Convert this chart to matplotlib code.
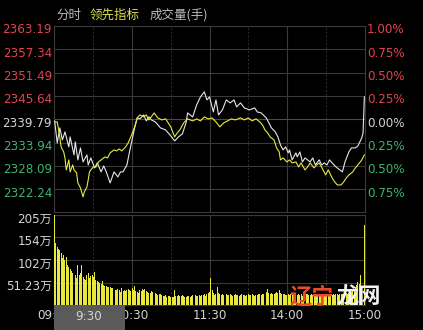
import matplotlib
matplotlib.use("Agg")
import matplotlib.pyplot as plt
from matplotlib import transforms
from matplotlib.patches import Rectangle
import numpy as np

# index close and the two intraday lines (minute since 9:30 -> value)
prev_close = 2339.79

price_t = [0, 2, 4, 6, 8, 11, 12, 15, 16, 18, 20, 22, 25, 26, 28, 31, 33, 36, 38, 40,
           43, 46, 49, 51, 53, 56, 58, 60, 62, 64, 66, 69, 71, 73, 75, 78, 82, 86, 90, 93,
           96, 99, 102, 103, 107, 110, 113, 116, 118, 120, 123, 125, 127, 130, 133, 136,
           139, 141, 144, 147, 151, 155, 157, 160, 164, 168, 171, 173, 175, 177, 179, 181,
           182, 184, 187, 188, 190, 192, 194, 198, 200, 202, 205, 207, 209, 211, 213, 215,
           218, 221, 223, 225, 228, 230, 233, 235, 238, 239, 240]
price_v = [2339.36, 2333.84, 2337.61, 2334.59, 2336.60, 2332.83, 2335.35, 2330.83, 2334.09,
           2329.57, 2332.58, 2329.07, 2330.83, 2328.31, 2330.07, 2327.56, 2328.82, 2326.56,
           2328.06, 2326.56, 2323.79, 2326.56, 2325.30, 2326.56, 2326.56, 2328.31, 2331.58,
           2334.59, 2337.61, 2340.12, 2339.87, 2340.87, 2339.36, 2340.37, 2339.61, 2339.11,
           2337.61, 2337.10, 2335.60, 2334.34, 2335.35, 2336.10, 2339.11, 2341.37, 2340.37,
           2343.38, 2345.39, 2346.65, 2344.64, 2345.39, 2341.62, 2344.64, 2340.87, 2342.13,
           2344.64, 2343.88, 2344.64, 2342.88, 2343.88, 2342.63, 2342.13, 2342.63, 2341.62,
           2341.37, 2340.12, 2337.61, 2336.60, 2335.35, 2333.34, 2332.08, 2332.83, 2331.33,
           2332.08, 2329.57, 2331.33, 2330.32, 2331.58, 2329.07, 2330.07, 2329.07, 2330.07,
           2328.31, 2329.57, 2328.31, 2328.82, 2328.31, 2329.57, 2328.82, 2327.81, 2327.06,
           2326.56, 2329.07, 2331.58, 2332.58, 2332.58, 2333.09, 2335.09, 2336.35, 2345.39]

lead_t = [0, 2, 4, 5, 7, 8, 9, 11, 12, 14, 15, 17, 18, 20, 22, 23, 25, 26, 27, 28, 30, 32,
          34, 36, 39, 41, 43, 46, 48, 50, 52, 55, 57, 59, 62, 64, 66, 69, 71, 73, 76, 77,
          80, 83, 86, 90, 93, 95, 97, 100, 103, 107, 110, 113, 116, 119, 122, 125, 128, 131,
          134, 137, 140, 144, 147, 150, 153, 156, 159, 161, 163, 165, 167, 170, 172, 174,
          175, 177, 180, 182, 184, 187, 189, 191, 194, 196, 198, 201, 203, 205, 208, 210,
          212, 215, 217, 219, 222, 224, 226, 228, 231, 233, 235, 238, 240]
lead_v = [2339.11, 2339.11, 2335.35, 2332.83, 2331.58, 2330.07, 2327.06, 2329.57, 2326.56,
          2328.31, 2327.06, 2326.31, 2323.79, 2322.54, 2320.28, 2321.53, 2322.79, 2324.55,
          2326.56, 2327.06, 2327.81, 2327.81, 2329.07, 2329.57, 2330.32, 2330.07, 2331.33,
          2332.08, 2331.83, 2332.33, 2331.83, 2332.83, 2333.84, 2335.35, 2337.86, 2340.12,
          2340.87, 2340.37, 2340.87, 2339.61, 2340.87, 2341.37, 2340.12, 2339.61, 2339.87,
          2337.86, 2335.35, 2336.35, 2337.10, 2338.86, 2339.87, 2339.36, 2339.87, 2339.36,
          2340.37, 2339.87, 2340.12, 2339.11, 2337.86, 2338.86, 2339.36, 2339.87, 2339.61,
          2340.12, 2339.61, 2340.12, 2339.36, 2339.87, 2339.11, 2338.36, 2337.10, 2336.35,
          2335.35, 2334.59, 2332.58, 2331.58, 2329.57, 2330.07, 2329.07, 2329.57, 2328.82,
          2329.07, 2327.81, 2328.82, 2327.06, 2327.81, 2328.82, 2327.56, 2328.31, 2328.82,
          2327.06, 2325.80, 2327.06, 2325.05, 2324.05, 2323.29, 2323.29, 2324.05, 2325.05,
          2325.80, 2326.56, 2327.56, 2328.31, 2329.57, 2330.83]

# volume per minute, in 万
volume = [
    205, 141, 132, 128, 125, 118, 107, 114, 102, 109,
    91, 86, 82, 78, 73, 64, 68, 61, 91, 68,
    72, 91, 64, 60, 57, 68, 73, 61, 66, 68,
    64, 75, 57, 55, 52, 50, 48, 55, 46, 44,
    43, 41, 42, 41, 39, 38, 36, 35, 34, 36,
    34, 30, 39, 33, 34, 32, 34, 36, 34, 33,
    39, 34, 43, 32, 30, 27, 34, 31, 36, 35,
    36, 33, 30, 28, 27, 32, 29, 27, 27, 25,
    23, 25, 24, 23, 21, 20, 22, 18, 20, 21,
    18, 19, 18, 34, 21, 20, 23, 21, 20, 22,
    20, 19, 18, 20, 21, 19, 20, 22, 20, 23,
    21, 20, 22, 21, 23, 22, 24, 21, 25, 27,
    30, 61, 34, 27, 23, 25, 41, 27,
    24, 22, 25, 23, 21, 24, 22, 23, 25, 22, 21, 23,
    24, 22, 23, 21, 22, 24, 23, 22, 21, 23, 25, 22,
    23, 24, 22, 21, 23, 22, 25, 24, 23, 26, 25, 27,
    29, 36, 27, 25, 28, 26, 24, 27, 29, 28, 34, 27,
    25, 24, 26, 23, 22, 24, 23, 25, 22, 24, 23, 22,
    23, 25, 22, 24, 21, 23, 22, 24, 25, 23, 22, 24,
    23, 22, 24, 25, 23, 22, 24, 23, 25, 22, 24, 23,
    22, 24, 25, 23, 24, 22, 25, 24, 23, 26, 24, 25,
    26, 25, 27, 26, 28, 27,
    30, 32, 36, 40, 45, 52, 48, 68, 0, 0, 182,
]

price_ticks = [2363.19, 2357.34, 2351.49, 2345.64, 2339.79, 2333.94, 2328.09, 2322.24]
pct_labels = ["1.00%", "0.75%", "0.50%", "0.25%", "0.00%", "0.25%", "0.50%", "0.75%"]
vol_ticks = [205, 154, 102, 51.23]
vol_labels = ["205万", "154万", "102万", "51.23万"]
time_ticks = [0, 60, 120, 180, 240]
time_labels = ["09:30", "10:30", "11:30", "14:00", "15:00"]

RED = "#e04550"
GREEN = "#3db46d"
WHITE = "#d4d4d4"
GRID = "#3a3a3a"
YELLOW = "#e8e83c"

plt.rcParams["font.family"] = ["DejaVu Sans", "Noto Sans CJK SC"]

W, H = 423, 330
fig = plt.figure(figsize=(W / 100, H / 100), dpi=100, facecolor="black")
ax = fig.add_axes([54 / W, 1 - 212.4 / H, 311 / W, 186.4 / H], facecolor="black")
axv = fig.add_axes([54 / W, 1 - 305 / H, 311 / W, 90 / H], facecolor="black")


def level_color(p):
    if abs(p - prev_close) < 0.01:
        return WHITE
    return RED if p > prev_close else GREEN


for a in (ax, axv):
    a.set_xlim(-0.5, 240.5)
    for s in a.spines.values():
        s.set_color(GRID)
        s.set_linewidth(0.8)
        s.set_zorder(1.5)
    for t in (60, 120, 180):
        a.axvline(t, color=GRID, lw=0.8, zorder=1)
    for t in (30, 90, 150, 210):
        a.axvline(t, color="#2e2e2e", lw=0.7, ls=(0, (2, 2)), zorder=1)
    a.tick_params(length=0)

# price panel
ax.set_ylim(prev_close * 0.99, prev_close * 1.01)
for p in price_ticks:
    ax.axhline(p, color="#4a4a4a" if p == prev_close else GRID, lw=0.8, zorder=1)
ax.set_xticks([])
ax.set_yticks([])

down = transforms.ScaledTranslation(0, -0.04, fig.dpi_scale_trans)
left_tr = transforms.blended_transform_factory(fig.transFigure, ax.transData) + down
for p, lab in zip(price_ticks, pct_labels):
    c = level_color(p)
    ax.text(52 / W, p, f"{p:.2f}", transform=left_tr, ha="right", va="center",
            color=c, fontsize=8.6)
    ax.text(367 / W, p, lab, transform=left_tr, ha="left", va="center",
            color=c, fontsize=8.6)

ax.plot(price_t, price_v, color="#e6e6e6", lw=0.8, zorder=3)
ax.plot(lead_t, lead_v, color=YELLOW, lw=0.8, zorder=3)

# volume panel
minutes = np.arange(len(volume))
axv.bar(minutes, volume, width=0.75, color=YELLOW, linewidth=0, zorder=2)
axv.set_ylim(0, 205)
for v in vol_ticks:
    axv.axhline(v, color=GRID, lw=0.8, zorder=1)
axv.set_yticks([])
vol_tr = transforms.blended_transform_factory(fig.transFigure, axv.transData) + down
for v, lab in zip(vol_ticks, vol_labels):
    axv.text(52 / W, v, lab, transform=vol_tr, ha="right", va="center",
             color=WHITE, fontsize=8.6)
axv.set_xticks(time_ticks, time_labels)
axv.tick_params(axis="x", colors=WHITE, labelsize=8.6, pad=3)

# cursor time box
fig.add_artist(Rectangle((54 / W, 0), 71 / W, 25 / H, transform=fig.transFigure,
                         facecolor="#5a5a5a", edgecolor="none", zorder=5))
fig.text(89 / W, 1 - 316 / H, "9:30", color=WHITE, fontsize=8.6, ha="center",
         va="center", zorder=6)

# header
cjk = ["Noto Sans CJK SC", "DejaVu Sans"]
fig.text(56 / W, 1 - 15 / H, "分时", color="#b8b8b8", fontsize=9, va="center", family=cjk)
fig.text(90 / W, 1 - 15 / H, "领先指标", color="#dcdc50", fontsize=9, va="center", family=cjk)
fig.text(150 / W, 1 - 15 / H, "成交量(手)", color="#b8b8b8", fontsize=9, va="center", family=cjk)

# watermark
fig.text(289 / W, 1 - 297 / H, "辽宁", color="#ee4a2a", fontsize=16, va="center",
         family=cjk, fontweight="bold", zorder=7)
fig.text(336 / W, 1 - 297 / H, "龙网", color="#f2f2f2", fontsize=16, va="center",
         family=cjk, fontweight="bold", zorder=7)

fig.savefig("out.png", dpi=100, facecolor="black")
